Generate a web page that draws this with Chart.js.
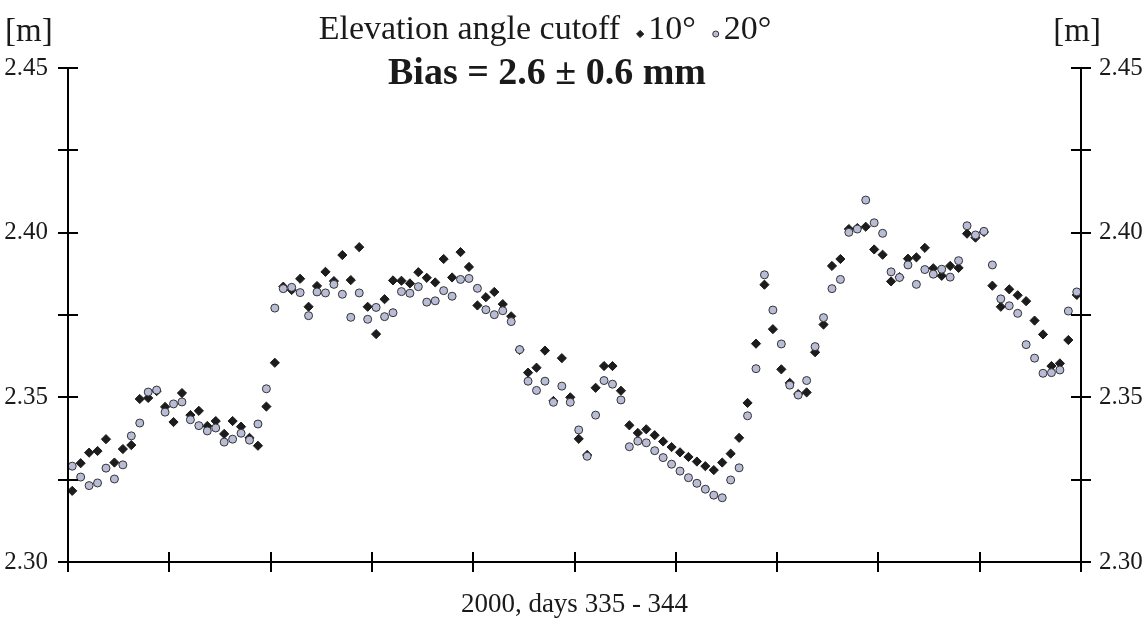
<!DOCTYPE html>
<html>
<head>
<meta charset="utf-8">
<script src="https://cdn.jsdelivr.net/npm/chart.js@4.4.1/dist/chart.umd.min.js"></script>
<style>
  html, body { margin: 0; background: #fff; }
  #wrap { width: 1145px; height: 623px; position: relative; }
</style>
</head>
<body>
<div id="wrap"><canvas id="chart"></canvas></div>
<script>
// epochs: 2 h batches, day-of-year 2000
const FIRST_EPOCH = 335 + 1 / 24;
const STEP_DAYS = 2 / 24;

// height [m], elevation cutoff 10 deg
const cut10 = [
  2.3216, 2.3300, 2.3332, 2.3337, 2.3373, 2.3302, 2.3343, 2.3355, 2.3495, 2.3498,
  2.3519, 2.3471, 2.3425, 2.3513, 2.3446, 2.3459, 2.3413, 2.3428, 2.3389, 2.3428,
  2.3411, 2.3377, 2.3353, 2.3472, 2.3605, 2.3836, 2.3826, 2.3860, 2.3775, 2.3838,
  2.3881, 2.3853, 2.3932, 2.3856, 2.3956, 2.3775, 2.3692, 2.3798, 2.3855, 2.3854,
  2.3846, 2.3880, 2.3863, 2.3849, 2.3920, 2.3864, 2.3941, 2.3896, 2.3779, 2.3804,
  2.3820, 2.3783, 2.3746, 2.3644, 2.3575, 2.3590, 2.3642, 2.3489, 2.3619, 2.3500,
  2.3374, 2.3325, 2.3529, 2.3595, 2.3595, 2.3520, 2.3415, 2.3392, 2.3403, 2.3385,
  2.3366, 2.3349, 2.3333, 2.3319, 2.3305, 2.3291, 2.3279, 2.3302, 2.3329, 2.3377,
  2.3483, 2.3663, 2.3842, 2.3707, 2.3585, 2.3544, 2.3510, 2.3515, 2.3637, 2.3721,
  2.3899, 2.3920, 2.4011, 2.4014, 2.4018, 2.3949, 2.3933, 2.3852, 2.3865, 2.3921,
  2.3925, 2.3954, 2.3892, 2.3869, 2.3899, 2.3893, 2.3997, 2.3985, 2.4002, 2.3839,
  2.3775, 2.3828, 2.3810, 2.3792, 2.3733, 2.3691, 2.3595, 2.3603, 2.3674, 2.3811
];

// height [m], elevation cutoff 20 deg
const cut20 = [
  2.3291, 2.3258, 2.3232, 2.3240, 2.3285, 2.3252, 2.3295, 2.3383, 2.3422, 2.3516,
  2.3522, 2.3455, 2.3480, 2.3486, 2.3432, 2.3414, 2.3398, 2.3407, 2.3364, 2.3373,
  2.3391, 2.3370, 2.3419, 2.3526, 2.3771, 2.3830, 2.3834, 2.3818, 2.3748, 2.3820,
  2.3817, 2.3843, 2.3813, 2.3743, 2.3817, 2.3737, 2.3773, 2.3745, 2.3757, 2.3821,
  2.3816, 2.3836, 2.3789, 2.3793, 2.3824, 2.3807, 2.3858, 2.3861, 2.3831, 2.3766,
  2.3751, 2.3763, 2.3730, 2.3645, 2.3549, 2.3521, 2.3549, 2.3485, 2.3534, 2.3485,
  2.3401, 2.3321, 2.3446, 2.3551, 2.3540, 2.3492, 2.3350, 2.3367, 2.3362, 2.3338,
  2.3317, 2.3297, 2.3276, 2.3256, 2.3239, 2.3221, 2.3203, 2.3195, 2.3249, 2.3286,
  2.3444, 2.3587, 2.3872, 2.3765, 2.3662, 2.3537, 2.3507, 2.3551, 2.3654, 2.3742,
  2.3830, 2.3858, 2.4001, 2.4011, 2.4099, 2.4030, 2.3998, 2.3881, 2.3864, 2.3902,
  2.3843, 2.3888, 2.3874, 2.3889, 2.3865, 2.3915, 2.4021, 2.3993, 2.4004, 2.3902,
  2.3799, 2.3778, 2.3755, 2.3660, 2.3619, 2.3573, 2.3575, 2.3583, 2.3762, 2.3820
];

const dayTicks = [335, 336, 337, 338, 339, 340, 341, 342, 343, 344, 345];
const heightTicks = [2.30, 2.325, 2.35, 2.375, 2.40, 2.425, 2.45];
const labelledHeights = [2.30, 2.35, 2.40, 2.45];

const SERIF = '"Liberation Serif", "Times New Roman", serif';
const INK = "#1a1a1a";
const DIAMOND = { pointStyle: "rectRot", radius: 4.6, fill: "#1c1c1c", border: "#1c1c1c" };
const CIRCLE = { pointStyle: "circle", radius: 4, fill: "#b9bcd6", border: "#333333" };

const toXY = (vals) => vals.map((v, i) => ({ x: FIRST_EPOCH + i * STEP_DAYS, y: v }));

function heightLabel(v) {
  const hit = labelledHeights.some((h) => Math.abs(h - v) < 1e-6);
  return hit ? v.toFixed(2) : "";
}

// axes with ticks crossing the lines, header text and inline legend
const frame = {
  id: "frame",
  afterDraw(chart) {
    const { ctx, chartArea: a, scales } = chart;
    const x = scales.x, y = scales.y;
    ctx.save();
    ctx.strokeStyle = "#000";
    ctx.lineWidth = 2;
    ctx.beginPath();
    ctx.moveTo(a.left, a.top); ctx.lineTo(a.left, a.bottom);
    ctx.moveTo(a.right, a.top); ctx.lineTo(a.right, a.bottom);
    ctx.moveTo(a.left - 10, a.bottom); ctx.lineTo(a.right + 10, a.bottom);
    heightTicks.forEach((h) => {
      const py = Math.round(y.getPixelForValue(h));
      ctx.moveTo(a.left - 10, py); ctx.lineTo(a.left + 10, py);
      ctx.moveTo(a.right - 10, py); ctx.lineTo(a.right + 10, py);
    });
    dayTicks.forEach((d) => {
      const px = Math.round(x.getPixelForValue(d));
      ctx.moveTo(px, a.bottom - 10); ctx.lineTo(px, a.bottom + 10);
    });
    ctx.stroke();

    ctx.fillStyle = INK;
    ctx.textBaseline = "middle";
    ctx.font = "33px " + SERIF;
    ctx.textAlign = "left";
    ctx.fillText("[m]", 5, 32);
    ctx.textAlign = "right";
    ctx.fillText("[m]", 1101, 32);

    // title line with legend markers
    ctx.font = "34px " + SERIF;
    const parts = ["Elevation angle cutoff  ", "10°  ", "20°"];
    const gap = 11;
    const widths = parts.map((p) => ctx.measureText(p).width);
    const total = widths[0] + gap + widths[1] + gap + widths[2];
    let cx = 545 - total / 2;
    const ty = 30;
    ctx.textAlign = "left";
    ctx.fillText(parts[0], cx, ty);
    cx += widths[0];
    [DIAMOND, CIRCLE].forEach((m, i) => {
      ctx.fillStyle = m.fill;
      ctx.strokeStyle = m.border;
      ctx.lineWidth = 1;
      Chart.helpers.drawPoint(ctx, { pointStyle: m.pointStyle, radius: m.radius - 1, borderWidth: 1 }, cx + 3, ty + 4);
      cx += gap;
      ctx.fillStyle = INK;
      ctx.fillText(parts[i + 1], cx, ty);
      cx += widths[i + 1];
    });

    ctx.font = "bold 38px " + SERIF;
    ctx.textAlign = "center";
    ctx.fillText("Bias = 2.6 \u00b1 0.6 mm", 547, 74);
    ctx.restore();
  }
};

const tickFont = { family: SERIF, size: 25 };

new Chart(document.getElementById("chart"), {
  type: "scatter",
  data: {
    datasets: [
      {
        label: "10°", data: toXY(cut10), order: 2,
        pointStyle: DIAMOND.pointStyle, pointRadius: DIAMOND.radius,
        backgroundColor: DIAMOND.fill, borderColor: DIAMOND.border, borderWidth: 1
      },
      {
        label: "20°", data: toXY(cut20), order: 1,
        pointStyle: CIRCLE.pointStyle, pointRadius: CIRCLE.radius,
        backgroundColor: CIRCLE.fill, borderColor: CIRCLE.border, borderWidth: 1
      }
    ]
  },
  options: {
    responsive: true, maintainAspectRatio: false, animation: false,
    layout: { padding: { top: 68, left: 0, right: 0, bottom: 0 } },
    plugins: { legend: { display: false }, tooltip: { enabled: false } },
    scales: {
      x: {
        type: "linear", min: 335, max: 345,
        grid: { display: false }, border: { display: false },
        ticks: { display: false },
        title: { display: true, text: "2000, days 335 - 344", color: INK, font: { family: SERIF, size: 27 }, padding: { top: 0, bottom: 2 } },
        afterFit: (s) => { s.height = 61; }
      },
      y: {
        position: "left", min: 2.30, max: 2.45,
        grid: { display: false }, border: { display: false },
        ticks: { stepSize: 0.025, callback: heightLabel, color: INK, font: tickFont, padding: 12 },
        afterFit: (s) => { s.width = 68; }
      },
      y2: {
        position: "right", min: 2.30, max: 2.45,
        grid: { display: false }, border: { display: false },
        ticks: { stepSize: 0.025, callback: heightLabel, color: INK, font: tickFont, padding: 10 },
        afterFit: (s) => { s.width = 64; }
      }
    }
  },
  plugins: [frame]
});
</script>
</body>
</html>
